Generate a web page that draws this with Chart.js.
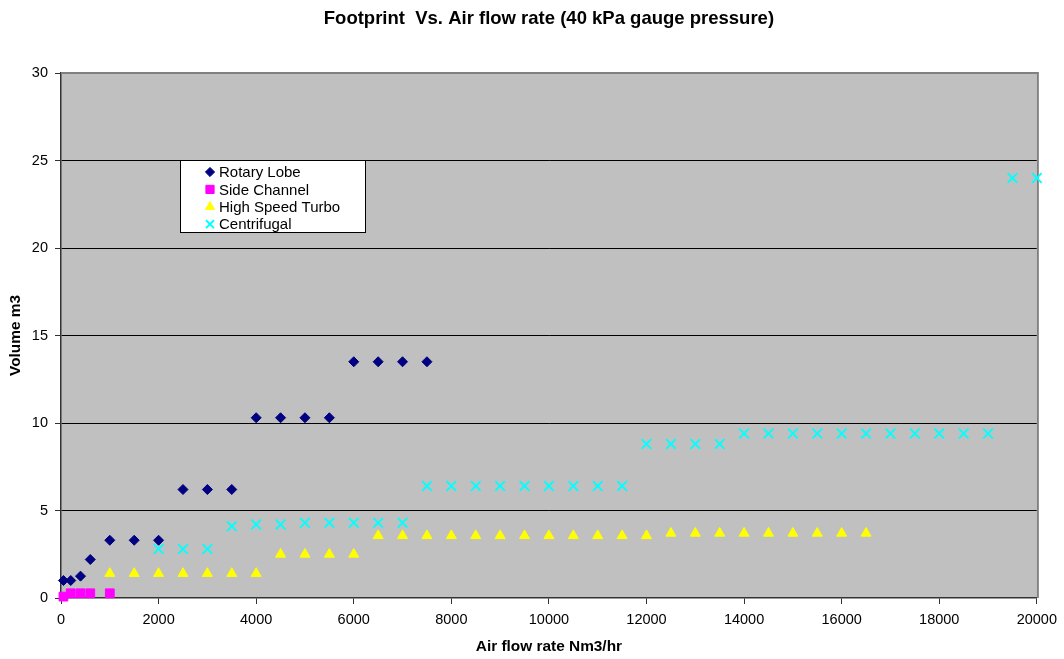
<!DOCTYPE html>
<html>
<head>
<meta charset="utf-8">
<title>Footprint Vs. Air flow rate</title>
<script src="https://cdn.jsdelivr.net/npm/chart.js@4.4.1/dist/chart.umd.min.js"></script>
<style>
  html, body { margin: 0; padding: 0; background: #ffffff; }
  canvas { display: block; }
</style>
</head>
<body>
<canvas id="chart" width="1064" height="659"></canvas>
<script>
// ---- text ----
const chartTitle = 'Footprint  Vs. Air flow rate (40 kPa gauge pressure)';
const xAxisTitle = 'Air flow rate Nm3/hr';
const yAxisTitle = 'Volume m3';
const seriesNames = ['Rotary Lobe', 'Side Channel', 'High Speed Turbo', 'Centrifugal'];

// ---- axis ranges / ticks ----
const xTickValues = [0, 2000, 4000, 6000, 8000, 10000, 12000, 14000, 16000, 18000, 20000];
const yTickValues = [0, 5, 10, 15, 20, 25, 30];

// ---- series data (air flow Nm3/hr, volume m3) ----
const rotaryLobeFlow   = [50, 200, 400, 600, 1000, 1500, 2000, 2500, 3000, 3500, 4000, 4500, 5000, 5500, 6000, 6500, 7000, 7500];
const rotaryLobeVolume = [1.0, 1.0, 1.25, 2.2, 3.3, 3.3, 3.3, 6.2, 6.2, 6.2, 10.3, 10.3, 10.3, 10.3, 13.5, 13.5, 13.5, 13.5];

const sideChannelFlow   = [50, 200, 400, 600, 1000];
const sideChannelVolume = [0.08, 0.27, 0.27, 0.27, 0.27];

const turboFlow   = [1000, 1500, 2000, 2500, 3000, 3500, 4000,
                     4500, 5000, 5500, 6000,
                     6500, 7000, 7500, 8000, 8500, 9000, 9500, 10000, 10500, 11000, 11500, 12000,
                     12500, 13000, 13500, 14000, 14500, 15000, 15500, 16000, 16500];
const turboVolume = [1.4, 1.4, 1.4, 1.4, 1.4, 1.4, 1.4,
                     2.5, 2.5, 2.5, 2.5,
                     3.56, 3.56, 3.56, 3.56, 3.56, 3.56, 3.56, 3.56, 3.56, 3.56, 3.56, 3.56,
                     3.7, 3.7, 3.7, 3.7, 3.7, 3.7, 3.7, 3.7, 3.7];

const centrifugalFlow   = [2000, 2500, 3000, 3500, 4000, 4500, 5000, 5500, 6000, 6500, 7000,
                           7500, 8000, 8500, 9000, 9500, 10000, 10500, 11000, 11500,
                           12000, 12500, 13000, 13500,
                           14000, 14500, 15000, 15500, 16000, 16500, 17000, 17500, 18000, 18500, 19000,
                           19500, 20000];
const centrifugalVolume = [2.8, 2.8, 2.8, 4.1, 4.2, 4.2, 4.3, 4.3, 4.3, 4.3, 4.3,
                           6.4, 6.4, 6.4, 6.4, 6.4, 6.4, 6.4, 6.4, 6.4,
                           8.8, 8.8, 8.8, 8.8,
                           9.4, 9.4, 9.4, 9.4, 9.4, 9.4, 9.4, 9.4, 9.4, 9.4, 9.4,
                           24, 24];

// ---- helpers ----
const FONT = "'Liberation Sans', Arial, Helvetica, sans-serif";
const toPoints = (xs, ys) => xs.map((x, i) => ({ x: x, y: ys[i] }));

const datasets = [
  {
    label: seriesNames[0],
    data: toPoints(rotaryLobeFlow, rotaryLobeVolume),
    pointStyle: 'rectRot', pointRadius: 5, pointBorderWidth: 1,
    backgroundColor: '#000080', borderColor: '#000080', legendRadius: 4.6
  },
  {
    label: seriesNames[1],
    data: toPoints(sideChannelFlow, sideChannelVolume),
    pointStyle: 'rect', pointRadius: 6.2, pointBorderWidth: 1,
    backgroundColor: '#FF00FF', borderColor: '#FF00FF', legendRadius: 5.8
  },
  {
    label: seriesNames[2],
    data: toPoints(turboFlow, turboVolume),
    pointStyle: 'triangle', pointRadius: 5.8, pointBorderWidth: 1,
    backgroundColor: '#FFFF00', borderColor: '#FFFF00', legendRadius: 5.2
  },
  {
    label: seriesNames[3],
    data: toPoints(centrifugalFlow, centrifugalVolume),
    pointStyle: 'crossRot', pointRadius: 6.8, pointBorderWidth: 1.9,
    backgroundColor: '#00FFFF', borderColor: '#00FFFF', legendRadius: 5.6
  }
];
datasets.forEach(d => { d.showLine = false; d.clip = false; d.pointHoverRadius = d.pointRadius; });

// grey plot area, frame, centred title and in-plot legend
const plotDecor = {
  id: 'plotDecor',
  beforeDraw(chart) {
    const { ctx, chartArea: a } = chart;
    ctx.save();
    ctx.fillStyle = '#C0C0C0';
    ctx.fillRect(a.left, a.top, a.right - a.left, a.bottom - a.top);
    ctx.restore();
  },
  beforeDatasetsDraw(chart) {
    const { ctx, chartArea: a } = chart;
    ctx.save();
    ctx.strokeStyle = '#808080';
    ctx.lineWidth = 2;
    ctx.beginPath();
    ctx.moveTo(a.left, a.top);
    ctx.lineTo(a.right + 1, a.top);
    ctx.lineTo(a.right + 1, a.bottom);
    ctx.stroke();
    ctx.restore();
  },
  afterDraw(chart) {
    const { ctx, chartArea: a } = chart;
    ctx.save();
    // title
    ctx.fillStyle = '#000000';
    ctx.font = 'bold 18.5px ' + FONT;
    ctx.textAlign = 'center';
    ctx.textBaseline = 'alphabetic';
    ctx.fillText(chartTitle, (a.left + a.right) / 2, 24);

    // legend box
    const bx = 180.5, by = 160.5, bw = 185, bh = 72;
    ctx.fillStyle = '#ffffff';
    ctx.fillRect(bx, by, bw, bh);
    ctx.strokeStyle = '#000000';
    ctx.lineWidth = 1;
    ctx.strokeRect(bx, by, bw, bh);

    ctx.font = '15px ' + FONT;
    ctx.textAlign = 'left';
    ctx.textBaseline = 'middle';
    chart.data.datasets.forEach((ds, i) => {
      const cy = 172 + i * 17.4;
      ctx.save();
      ctx.fillStyle = ds.backgroundColor;
      ctx.strokeStyle = ds.borderColor;
      ctx.lineWidth = ds.pointBorderWidth;
      Chart.helpers.drawPoint(ctx, {
        pointStyle: ds.pointStyle, rotation: 0,
        radius: ds.legendRadius, borderWidth: ds.pointBorderWidth
      }, 210, cy);
      ctx.restore();
      ctx.fillStyle = '#000000';
      ctx.fillText(ds.label, 219, cy + 1);
    });
    ctx.restore();
  }
};

new Chart(document.getElementById('chart'), {
  type: 'scatter',
  data: { datasets: datasets },
  options: {
    responsive: false,
    devicePixelRatio: 1,
    animation: false,
    layout: { padding: { top: 73, right: 25, left: 0, bottom: 0 } },
    plugins: {
      legend: { display: false },
      title: { display: false },
      tooltip: { enabled: false }
    },
    scales: {
      x: {
        type: 'linear',
        min: xTickValues[0],
        max: xTickValues[xTickValues.length - 1],
        afterBuildTicks(scale) { scale.ticks = xTickValues.map(v => ({ value: v })); },
        afterFit(scale) { scale.height = 61; },
        grid: { drawOnChartArea: false, drawTicks: true, tickLength: 6, tickColor: '#333333' },
        border: { display: true, color: '#333333', width: 1.5 },
        ticks: {
          color: '#000000', padding: 7, maxRotation: 0, autoSkip: false,
          font: { family: FONT, size: 14.5 },
          callback: v => String(v)
        },
        title: {
          display: true, text: xAxisTitle, color: '#000000',
          font: { family: FONT, size: 15.4, weight: 'bold' },
          padding: { top: 0, bottom: 3 }
        }
      },
      y: {
        type: 'linear',
        min: yTickValues[0],
        max: yTickValues[yTickValues.length - 1],
        afterBuildTicks(scale) { scale.ticks = yTickValues.map(v => ({ value: v })); },
        afterFit(scale) { scale.width = 61; },
        grid: {
          drawOnChartArea: true, drawTicks: true, tickLength: 6,
          tickColor: '#333333',
          color: c => (c.tick && (c.tick.value === 0 || c.tick.value === 30)) ? 'rgba(0,0,0,0)' : '#000000',
          lineWidth: 1
        },
        border: { display: true, color: '#333333', width: 1.5 },
        ticks: {
          color: '#000000', padding: 7, autoSkip: false,
          font: { family: FONT, size: 14.5 },
          callback: v => String(v)
        },
        title: {
          display: true, text: yAxisTitle, color: '#000000',
          font: { family: FONT, size: 15.4, weight: 'bold' },
          padding: { top: 7, bottom: 0 }
        }
      }
    }
  },
  plugins: [plotDecor]
});
</script>
</body>
</html>
